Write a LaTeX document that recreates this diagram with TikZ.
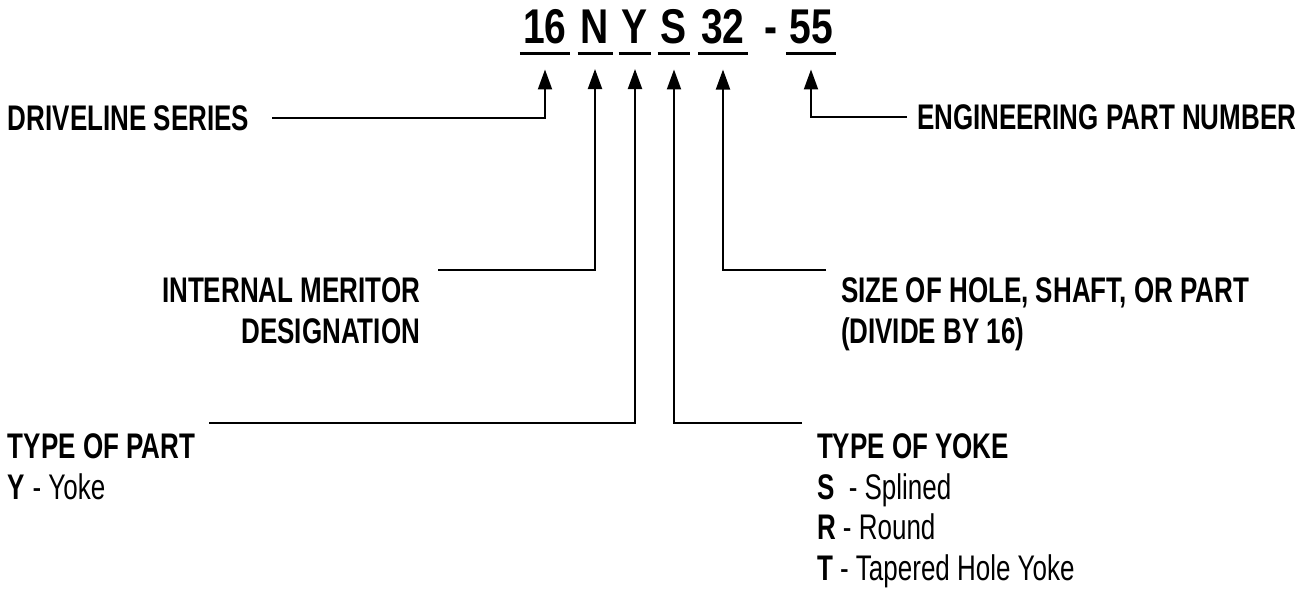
\documentclass[tikz,border=0pt]{standalone}
\usepackage{fontspec}
\setmainfont{Liberation Sans}[FakeStretch=0.73]
\newfontfamily\titlefont{Liberation Sans}[FakeStretch=0.8]
\usetikzlibrary{arrows.meta}

\begin{document}
\begin{tikzpicture}[>={Triangle[length=10pt,width=7pt]}, x=0.5pt, y=-0.5pt, line width=1pt]
        \tikzset{code/.style={inner xsep=1.2pt, inner ysep=0pt, anchor=base, font=\titlefont\bfseries\fontsize{24.4}{26}\selectfont},
                 uline/.style={line width=1.5pt},
                 lbl/.style={inner sep=0pt, font=\fontsize{17.8}{20.2}\selectfont},
                 conn/.style={->, shorten >=12.5pt}}

        \useasboundingbox (0,0) rectangle (1308,590);

        \node[code] (t16) at (545,43) {16};
        \node[code] (tN) at (595,43) {N};
        \node[code] (tY) at (635,43) {Y};
        \node[code] (tS) at (674,43) {S};
        \node[code] (t32) at (723,43) {32};
        \node[code] (dash) at (771,43) {-};
        \node[code] (t55) at (811,43) {55};
        \foreach \t in {t16,tN,tY,tS,t32,t55}
            \draw[uline] ([yshift=-4.5pt]\t.south west) -- ([yshift=-4.5pt]\t.south east);

        \node[lbl, anchor=west] (series) at (7,118) {\textbf{DRIVELINE SERIES}};
        \node[lbl, anchor=west] (engnum) at (916,117) {\textbf{ENGINEERING PART NUMBER}};
        \node[lbl, anchor=north east, align=right] (internal) at (421,277) {\textbf{INTERNAL MERITOR}\\\textbf{DESIGNATION}};
        \node[lbl, anchor=north west, align=left] (size) at (840,277) {\textbf{SIZE OF HOLE, SHAFT, OR PART}\\\textbf{(DIVIDE BY 16)}};
        \node[lbl, anchor=north west, align=left] (ptype) at (7,433) {\textbf{TYPE OF PART}\\\textbf{Y} - Yoke};
        \node[lbl, anchor=north west, align=left] (ytype) at (816,433) {\textbf{TYPE OF YOKE}\\\textbf{S}\ \ - Splined\\\textbf{R} - Round\\\textbf{T} - Tapered Hole Yoke};

        \draw[conn] ([xshift=11pt]series.east) -| (t16.south);
        \draw[conn] ([xshift=-4.5pt]engnum.west) -| (t55.south);
        \draw[conn] ([xshift=8.5pt,yshift=3.5pt]internal.north east) -| (tN.south);
        \draw[conn] ([xshift=-7pt,yshift=3.5pt]size.north west) -| (t32.south);
        \draw[conn] ([xshift=6.5pt,yshift=5pt]ptype.north east) -| (tY.south);
        \draw[conn] ([xshift=-7pt,yshift=5pt]ytype.north west) -| (tS.south);
    \end{tikzpicture}
\end{document}
